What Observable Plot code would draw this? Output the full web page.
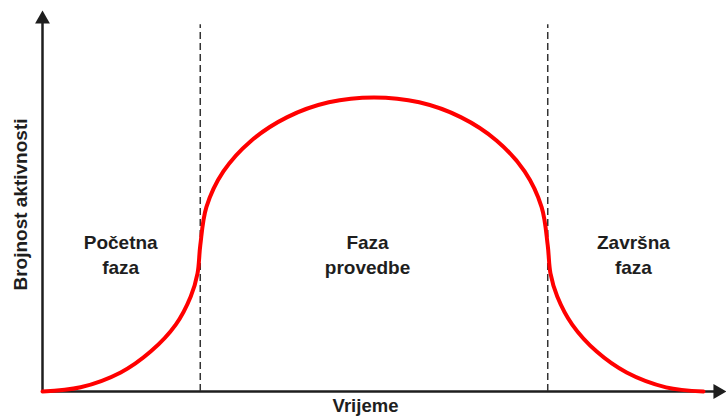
<!DOCTYPE html>
<html>
<head>
<meta charset="utf-8">
<script src="https://cdn.jsdelivr.net/npm/d3@7"></script>
<script src="https://cdn.jsdelivr.net/npm/@observablehq/plot@0.6"></script>
<style>
  html, body { margin: 0; padding: 0; background: #fff; }
  #chart svg { display: block; }
</style>
</head>
<body>
<div id="chart"></div>
<script>
// Curve (time 0..100, activity 0..100)
const timeVals = [0, 5.6, 11.5, 15.9, 19.6, 21.8, 22.8, 23.2, 24.1, 26.6, 30.7, 36.0, 42.1, 48.75, 55.4, 61.5, 66.8, 70.9, 73.4, 74.3, 74.7, 75.7, 77.9, 81.5, 85.9, 91.7, 97.2];
const activityVals = [0, 1.1, 5.0, 10.5, 17.6, 25.0, 31.1, 38.4, 48.5, 57.9, 66.0, 72.2, 76.1, 77.4, 76.1, 72.2, 66.0, 57.9, 48.5, 38.4, 31.1, 25.0, 17.6, 10.5, 5.0, 1.1, 0];

// Phase boundaries (time)
const phaseBoundaries = [23.2, 74.3];

// Phase labels and their centres (time)
const phaseLabels = ["Početna\nfaza", "Faza\nprovedbe", "Završna\nfaza"];
const phaseLabelTime = [11.5, 47.8, 86.9];
const phaseLabelLevel = 36.3;

const xTitle = "Vrijeme";
const yTitle = "Brojnost aktivnosti";

const curve = timeVals.map((t, i) => ({t, a: activityVals[i]}));
const labels = phaseLabels.map((s, i) => ({s, t: phaseLabelTime[i], a: phaseLabelLevel}));

const font = "'Liberation Sans', Arial, sans-serif";
const ink = "#1e1e1e";

const chart = Plot.plot({
  width: 726,
  height: 416,
  marginLeft: 42,
  marginRight: 4,
  marginTop: 11,
  marginBottom: 25,
  style: {fontFamily: font, background: "#fff", overflow: "visible"},
  x: {domain: [0, 100], axis: null},
  y: {domain: [0, 100], axis: null},
  marks: [
    // axes lines
    Plot.ruleX([0], {y1: 0, y2: 98, stroke: ink, strokeWidth: 2.5}),
    Plot.ruleY([0], {x1: 0, x2: 99.3, stroke: ink, strokeWidth: 2.5}),
    // phase boundaries
    Plot.ruleX(phaseBoundaries, {y1: 0, y2: 96.5, stroke: "#333", strokeWidth: 1.5, strokeDasharray: "7,4"}),
    // curve
    Plot.line(curve, {x: "t", y: "a", stroke: "#ff0000", strokeWidth: 4, curve: "catmull-rom", strokeLinecap: "round"}),
    // arrow heads
    Plot.dot([{t: 0, a: 98}], {x: "t", y: "a", symbol: "triangle", r: 5.5, fill: ink, stroke: "none"}),
    Plot.dot([{t: 99.3, a: 0}], {x: "t", y: "a", symbol: "triangle", r: 5.5, fill: ink, stroke: "none", rotate: 90}),
    // phase labels
    Plot.text(labels, {x: "t", y: "a", text: "s", fontSize: 19, fontWeight: "bold", fill: ink, lineHeight: 1.3, textAnchor: "middle", lineAnchor: "middle"}),
    // axis titles
    Plot.text([xTitle], {x: 47.5, y: -3.9, fontSize: 18.5, fontWeight: "bold", fill: ink, lineAnchor: "middle"}),
    Plot.text([yTitle], {x: -3.2, y: 49.2, fontSize: 19, fontWeight: "bold", fill: ink, rotate: -90, lineAnchor: "middle"})
  ]
});

document.getElementById("chart").appendChild(chart);
</script>
</body>
</html>
